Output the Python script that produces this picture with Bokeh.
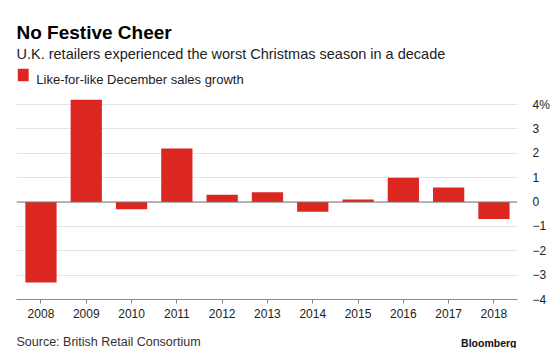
from bokeh.plotting import figure
from bokeh.models import (ColumnDataSource, Label, Span, FixedTicker)
from bokeh.layouts import column
from bokeh.embed import file_html
from bokeh.resources import INLINE

years = ["2008", "2009", "2010", "2011", "2012", "2013", "2014", "2015", "2016", "2017", "2018"]
growth = [-3.3, 4.2, -0.3, 2.2, 0.3, 0.4, -0.4, 0.1, 1.0, 0.6, -0.7]
y_ticks = [-4, -3, -2, -1, 0, 1, 2, 3, 4]
y_labels = {4: "4%"}

title_text = "No Festive Cheer"
subtitle_text = "U.K. retailers experienced the worst Christmas season in a decade"
series_name = "Like-for-like December sales growth"
source_text = "Source: British Retail Consortium"

FONT = "Liberation Sans"
RED = "#dc2620"
W = 552
BL, BR = 16, 30          # left / right borders shared by all stacked figures
FX0, FX1 = BL, W - BR    # frame extent in page pixels


def blank(h):
    f = figure(width=W, height=h, output_backend="svg", toolbar_location=None,
               x_range=(FX0, FX1), y_range=(0, h), x_axis_location=None, y_axis_location=None,
               min_border_left=BL, min_border_right=BR, min_border_top=0, min_border_bottom=0)
    f.grid.visible = False
    f.outline_line_color = None
    f.background_fill_color = "white"
    f.border_fill_color = "white"
    return f


# ---- header (title, subtitle, legend key) ----
HH = 95
top = blank(HH)
top.add_layout(Label(x=16, y=HH - 32.3, text=title_text, text_font=FONT, text_font_style="bold",
                     text_font_size="19px", text_color="#000000", text_baseline="alphabetic"))
top.add_layout(Label(x=16, y=HH - 53.3, text=subtitle_text, text_font=FONT, text_font_size="14.5px",
                     text_color="#222222", text_baseline="alphabetic"))
# legend key swatch + label
top.rect(x=[22.8], y=[HH - 74.5], width=11, height=12.4, color=RED, line_color=None)
top.add_layout(Label(x=36, y=HH - 79, text=series_name, text_font=FONT, text_font_size="13px",
                     text_color="#222222", text_baseline="alphabetic"))

# ---- main chart ----
idx = list(range(len(years)))
src = ColumnDataSource(dict(x=idx, top=growth, year=years))

p = figure(width=W, height=230, output_backend="svg", toolbar_location=None,
           x_range=(-0.54, 10.52), y_range=(-4, 4.37),
           min_border_left=BL, min_border_right=BR, min_border_top=0, min_border_bottom=26,
           y_axis_location="right")
p.outline_line_color = None
p.background_fill_color = "white"
p.border_fill_color = "white"

p.vbar(x="x", top="top", bottom=0, width=0.69, source=src, color=RED, line_color=None)

xa = p.xaxis[0]
xa.ticker = FixedTicker(ticks=idx)
xa.major_label_overrides = {i: y for i, y in enumerate(years)}
xa.axis_line_color = "#8a8a8a"
xa.axis_line_width = 1.2
xa.major_tick_line_color = "#8a8a8a"
xa.major_tick_out = 4
xa.major_tick_in = 0
xa.minor_tick_line_color = None
xa.major_label_text_font = FONT
xa.major_label_text_font_size = "12px"
xa.major_label_text_color = "#222222"
xa.major_label_standoff = 5

ya = p.yaxis[0]
ya.ticker = FixedTicker(ticks=y_ticks)
ya.major_label_overrides = y_labels
ya.axis_line_color = None
ya.major_tick_line_color = None
ya.minor_tick_line_color = None
ya.major_label_text_font = FONT
ya.major_label_text_font_size = "12px"
ya.major_label_text_color = "#222222"
ya.major_label_standoff = 9

p.xgrid.grid_line_color = None
p.ygrid.ticker = FixedTicker(ticks=y_ticks)
p.ygrid.grid_line_color = "#e3e3e3"
p.ygrid.grid_line_width = 1

p.add_layout(Span(location=0, dimension="width", line_color="#777777", line_width=1))

# ---- footer ----
bot = blank(23)
bot.add_layout(Label(x=16, y=7, text=source_text, text_font=FONT, text_font_size="12.5px",
                     text_color="#333333", text_baseline="middle"))
bot.add_layout(Label(x=FX1 - 1, y=6, text="Bloomberg", text_font=FONT, text_font_style="bold",
                     text_font_size="10.5px", text_color="#111111", text_baseline="middle",
                     text_align="right"))

layout = column(top, p, bot, spacing=0)
open("out.html", "w").write(file_html(layout, INLINE))
